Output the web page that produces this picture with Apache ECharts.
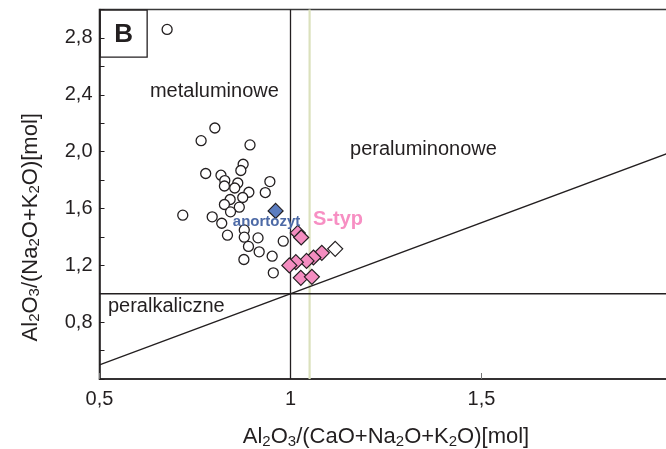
<!DOCTYPE html>
<html>
<head>
<meta charset="utf-8">
<script src="https://cdn.jsdelivr.net/npm/echarts@6/dist/echarts.min.js"></script>
<style>
  html, body { margin: 0; padding: 0; background: #ffffff; }
  #chart { width: 666px; height: 449px; }
</style>
</head>
<body>
<div id="chart"></div>
<script>
// Granitoid samples (open circles): A/CNK on x, A/NK on y
const granitoidX = [0.677, 0.802, 0.766, 0.894, 0.876, 0.870, 0.778, 0.818, 0.828, 0.827, 0.862,
                    0.854, 0.946, 0.891, 0.934, 0.875, 0.842, 0.827, 0.866, 0.843, 0.718, 0.795,
                    0.820, 0.879, 0.835, 0.879, 0.915, 0.981, 0.890, 0.918, 0.952, 0.878, 0.955];
const granitoidY = [2.860, 2.166, 2.077, 2.047, 1.911, 1.867, 1.846, 1.834, 1.796, 1.758, 1.779,
                    1.744, 1.789, 1.714, 1.712, 1.677, 1.663, 1.628, 1.609, 1.576, 1.553, 1.541,
                    1.496, 1.449, 1.412, 1.398, 1.393, 1.370, 1.333, 1.295, 1.264, 1.241, 1.147];

// S-type granites (pink diamonds)
const sTypeX = [1.019, 1.028, 1.082, 1.060, 1.042, 1.014, 0.997, 1.027, 1.056];
const sTypeY = [1.428, 1.396, 1.288, 1.255, 1.231, 1.222, 1.199, 1.112, 1.119];

// Anorthosite (blue diamond) and the single open diamond
const anorthositeX = [0.961];
const anorthositeY = [1.583];
const openDiamondX = [1.117];
const openDiamondY = [1.316];

// Field boundaries
const diagonalX = [0.5, 2.0];
const diagonalY = [0.5, 2.0];
const boundaryA = 1.0;      // A/CNK = 1 and A/NK = 1
const sTypeLimit = 1.05;    // A/CNK = 1.05

// Axis extents
const xMin = 0.5, xMax = 2.0, xStep = 0.5;
const yMin = 0.4, yMax = 3.0, yStep = 0.2;
const yLabelled = [0.8, 1.2, 1.6, 2.0, 2.4, 2.8];
const xLabelled = [0.5, 1.0, 1.5];

// Field names
const fieldNames = ['metaluminowe', 'peraluminonowe', 'peralkaliczne'];
const fieldX = [0.632, 1.156, 0.522];
const fieldY = [2.424, 2.016, 0.913];

// Group labels
const groupNames = ['anortozyt', 'S-typ'];
const groupX = [0.849, 1.059];
const groupY = [1.503, 1.524];

const FONT = '"Liberation Sans", Arial, Helvetica, sans-serif';
const INK = '#231f20';

const zip = (xs, ys) => xs.map((x, i) => [x, ys[i]]);

const chart = echarts.init(document.getElementById('chart'), null, { renderer: 'canvas' });

const lineSeries = (data, color, width, z) => ({
  type: 'line', data, symbol: 'none', silent: true, animation: false, z,
  lineStyle: { color, width }, clip: true
});

const textRich = size => ({
  n: { fontSize: size, fontFamily: FONT, color: INK, lineHeight: 24 },
  s: { fontSize: Math.round(size * 0.66), fontFamily: FONT, color: INK, lineHeight: 16, verticalAlign: 'bottom' }
});

const option = {
  animation: false,
  backgroundColor: '#ffffff',
  grid: {
    // the frame runs a few pixels past the right edge of the canvas
    left: 99.5, top: 9.5, width: 573, height: 369.5,
    outerBoundsMode: 'none', containLabel: false,
    show: true, borderColor: '#3a3a3a', borderWidth: 1.6, backgroundColor: 'transparent'
  },
  xAxis: {
    type: 'value', min: xMin, max: xMax, interval: xStep,
    name: '{n|Al}{s|2}{n|O}{s|3}{n|/(CaO+Na}{s|2}{n|O+K}{s|2}{n|O)[mol]}',
    nameLocation: 'middle', nameGap: 46,
    nameTextStyle: { rich: textRich(22) },
    axisLine: { show: true, lineStyle: { color: INK, width: 1.5 } },
    axisTick: { show: true, inside: true, length: 6, lineStyle: { color: '#777', width: 1 } },
    axisLabel: {
      fontFamily: FONT, fontSize: 20, color: INK, margin: 10,
      formatter: v => xLabelled.some(t => Math.abs(t - v) < 1e-6)
        ? String(+v.toFixed(1)).replace('.', ',') : ''
    },
    splitLine: { show: false }
  },
  yAxis: {
    type: 'value', min: yMin, max: yMax, interval: yStep,
    name: '{n|Al}{s|2}{n|O}{s|3}{n|/(Na}{s|2}{n|O+K}{s|2}{n|O)[mol]}',
    nameLocation: 'middle', nameGap: 57,
    nameTextStyle: { rich: textRich(22), padding: [0, 66, 0, 0] },
    axisLine: { show: true, lineStyle: { color: INK, width: 1.5 } },
    axisTick: { show: true, inside: true, length: 5, lineStyle: { color: INK, width: 1 } },
    axisLabel: {
      fontFamily: FONT, fontSize: 20, color: INK, margin: 7,
      formatter: v => yLabelled.some(t => Math.abs(t - v) < 1e-6)
        ? v.toFixed(1).replace('.', ',') : ''
    },
    splitLine: { show: false }
  },
  graphic: [
    {
      type: 'group', left: 99.5, top: 9.5, z: 100,
      children: [
        { type: 'rect', shape: { x: 0, y: 0, width: 47, height: 47 },
          style: { fill: '#ffffff', stroke: INK, lineWidth: 1.3 } },
        { type: 'text', x: 23.5, y: 25,
          style: { text: 'B', fontFamily: FONT, fontWeight: 'bold', fontSize: 26, fill: INK,
                   align: 'center', verticalAlign: 'middle' } }
      ]
    }
  ],
  series: [
    lineSeries(zip(diagonalX, diagonalY), INK, 1.3, 2),
    lineSeries([[boundaryA, yMin], [boundaryA, yMax]], INK, 1.3, 2),
    lineSeries([[xMin, boundaryA], [xMax, boundaryA]], INK, 1.3, 2),
    lineSeries([[sTypeLimit, yMin], [sTypeLimit, yMax]], '#dbe1bd', 2.2, 1),
    {
      type: 'scatter', data: zip(granitoidX, granitoidY), symbol: 'circle', symbolSize: 10, z: 3,
      itemStyle: { color: '#ffffff', borderColor: INK, borderWidth: 1.3, opacity: 1 }
    },
    {
      type: 'scatter', data: zip(anorthositeX, anorthositeY), symbol: 'diamond', symbolSize: 15, z: 4,
      itemStyle: { color: '#5b7dc0', borderColor: INK, borderWidth: 1.2, opacity: 1 }
    },
    {
      type: 'scatter', data: zip(sTypeX, sTypeY), symbol: 'diamond', symbolSize: 15, z: 4,
      itemStyle: { color: '#f48dc0', borderColor: INK, borderWidth: 1.2, opacity: 1 }
    },
    {
      type: 'scatter', data: zip(openDiamondX, openDiamondY), symbol: 'diamond', symbolSize: 15, z: 4,
      itemStyle: { color: '#ffffff', borderColor: INK, borderWidth: 1.2, opacity: 1 }
    },
    {
      type: 'scatter', silent: true, symbolSize: 0, z: 5,
      itemStyle: { opacity: 1 },
      data: fieldNames.map((name, i) => ({ value: [fieldX[i], fieldY[i]], name })),
      label: { show: true, position: 'right', distance: 0, formatter: '{b}',
               fontFamily: FONT, fontSize: 20, color: INK, opacity: 1 }
    },
    {
      type: 'scatter', silent: true, symbolSize: 0, z: 5,
      itemStyle: { opacity: 1 },
      data: groupNames.map((name, i) => ({
        value: [groupX[i], groupY[i]], name,
        label: i === 0
          ? { fontSize: 15, color: '#4d6aa6' }
          : { fontSize: 20, color: '#f78fc3' }
      })),
      label: { show: true, position: 'right', distance: 0, formatter: '{b}',
               fontFamily: FONT, fontWeight: 'bold', opacity: 1 }
    }
  ]
};

chart.setOption(option);
</script>
</body>
</html>
